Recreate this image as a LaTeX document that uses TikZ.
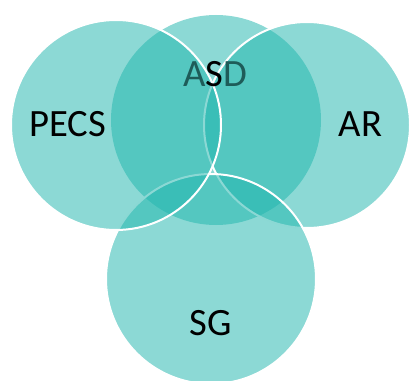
\documentclass[tikz,border=0pt]{standalone}
\usepackage{fontspec}
\setmainfont{Carlito}
\usepackage{tikz}
\definecolor{VennTeal}{RGB}{34,182,174}
\definecolor{DarkTeal}{RGB}{30,92,89}

\begin{document}
\begin{tikzpicture}[x=0.75pt, y=-0.75pt,
    set/.style={fill=VennTeal, fill opacity=0.52},
    rim/.style={draw=white, line width=1.5pt},
    lbl/.style={font=\fontsize{29}{34}\selectfont, anchor=base, inner sep=0pt}]
        \useasboundingbox (0,0) rectangle (410,381);

        % Draw circles, back to front
        \fill[set] (216,120) circle (105);
        \filldraw[set, rim] (307,125) circle (103);
        \filldraw[set, rim] (211,279) circle (105);
        \filldraw[set, rim] (116,125) circle (105);

        % Set labels
        \node[lbl, DarkTeal] (asd) at (215,86.5) {A\textcolor{black}{S}D};
        \node[lbl] (pecs) at (67.5,137) {PECS};
        \node[lbl] (ar) at (360.5,137) {AR};
        \node[lbl] (sg) at (210.5,335) {SG};
    \end{tikzpicture}
\end{document}
